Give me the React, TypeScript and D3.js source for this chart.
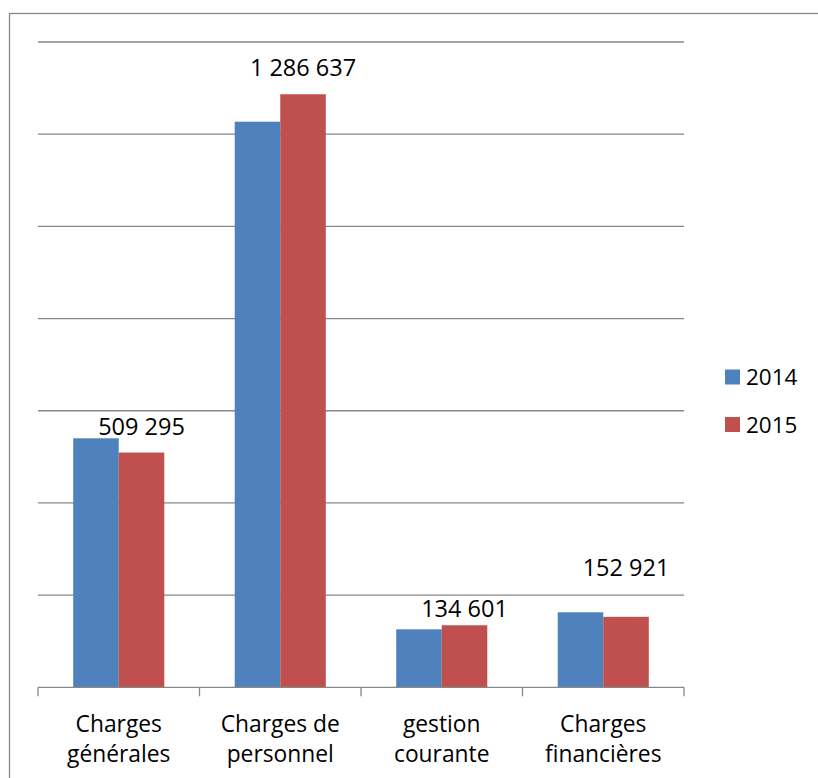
import React from "react";
import * as d3 from "d3";

// chart data
const categories = ["Charges générales", "Charges de personnel", "gestion courante", "Charges financières"];
const categoryLines = [["Charges", "générales"], ["Charges de", "personnel"], ["gestion", "courante"], ["Charges", "financières"]];
const series = ["2014", "2015"];
const values2014 = [540200, 1227100, 125800, 162700];
const values2015 = [509295, 1286637, 134601, 152921];
const labels2015 = ["509 295", "1 286 637", "134 601", "152 921"];
const yTicks = [0, 200000, 400000, 600000, 800000, 1000000, 1200000, 1400000];

// how far each data label sits above its bar (px)
const labelLift = [18, 18, 8, 41];

const colors = ["#4f81bd", "#c0504d"];
const FONT = "'Open Sans', sans-serif";

export default function App() {
  const W = 818;
  const H = 778;
  const plot = { left: 38, right: 684, top: 42, bottom: 687.3 };

  const y = d3.scaleLinear().domain([0, 1400000]).range([plot.bottom, plot.top]);
  const x0 = d3.scaleBand<string>().domain(categories).range([plot.left, plot.right]).padding(0);
  const bw = x0.bandwidth();
  const x1 = d3.scaleBand<string>().domain(series).range([bw * 0.218, bw * 0.782]).padding(0);

  const data = [values2014, values2015];

  return (
    <svg width={W} height={H} style={{ position: "absolute", left: 0, top: 0, background: "#fff" }}>
      {/* outer border */}
      <rect x={9.5} y={13.5} width={W + 20} height={H + 20} fill="none" stroke="#878787" strokeWidth={1.3} />

      {/* gridlines */}
      {yTicks.slice(1).map((t) => (
        <line key={t} x1={plot.left} x2={plot.right} y1={y(t)} y2={y(t)} stroke="#878787" strokeWidth={1.3} />
      ))}

      {/* bars */}
      {categories.map((c, i) => (
        <g key={c} transform={`translate(${x0(c)},0)`}>
          {series.map((s, j) => (
            <rect
              key={s}
              x={x1(s)}
              y={y(data[j][i])}
              width={x1.bandwidth()}
              height={y(0) - y(data[j][i])}
              fill={colors[j]}
            />
          ))}
        </g>
      ))}

      {/* x axis */}
      <line x1={plot.left} x2={plot.right} y1={y(0)} y2={y(0)} stroke="#878787" strokeWidth={1.3} />
      {[...categories.map((c) => x0(c) as number), plot.right].map((tx, i) => (
        <line key={i} x1={tx} x2={tx} y1={y(0)} y2={y(0) + 9} stroke="#878787" strokeWidth={1.3} />
      ))}

      {/* data labels (2015) */}
      {categories.map((c, i) => (
        <text
          key={c}
          x={(x0(c) as number) + (x1("2015") as number) + x1.bandwidth() / 2}
          y={y(values2015[i]) - labelLift[i]}
          textAnchor="middle"
          fontFamily={FONT}
          fontSize={23.5}
          fill="#000"
        >
          {labels2015[i]}
        </text>
      ))}

      {/* category labels */}
      {categories.map((c, i) => (
        <text key={c} textAnchor="middle" fontFamily={FONT} fontSize={22.8} fill="#000">
          {categoryLines[i].map((ln, k) => (
            <tspan key={k} x={(x0(c) as number) + bw / 2} y={731.5 + k * 30}>
              {ln}
            </tspan>
          ))}
        </text>
      ))}

      {/* legend */}
      {series.map((s, j) => (
        <g key={s} transform={`translate(725,${369.5 + j * 47.5})`}>
          <rect x={0} y={0} width={15} height={15} fill={colors[j]} />
          <text x={21} y={15.5} fontFamily={FONT} fontSize={22.5} fill="#000">
            {s}
          </text>
        </g>
      ))}
    </svg>
  );
}
